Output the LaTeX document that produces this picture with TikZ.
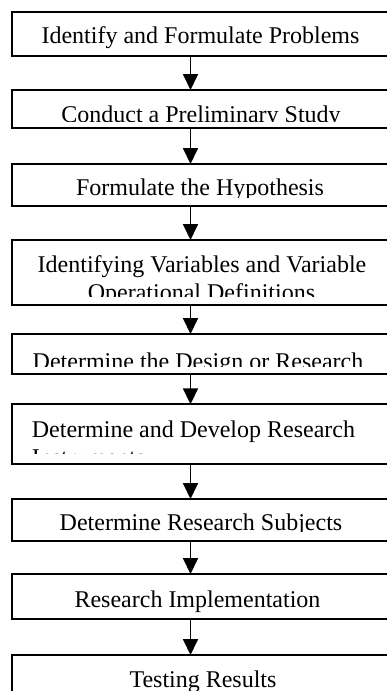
\documentclass[tikz,border=0pt]{standalone}
\usepackage{fontspec}
\setmainfont{Liberation Serif}
\usetikzlibrary{arrows.meta}
\tikzset{
  box/.style={draw, line width=1.8pt, minimum width=380pt, anchor=north west, inner sep=0pt, outer sep=0pt},
  txt/.style={font=\fontsize{24}{28}\selectfont, inner sep=0pt, anchor=base},
  txtl/.style={font=\fontsize{24}{28}\selectfont, inner sep=0pt, anchor=base west},
  arr/.style={-{Triangle[width=15pt,length=16pt]}, line width=1.8pt}
}
\begin{document}
\begin{tikzpicture}[x=1pt,y=-1pt]
\useasboundingbox (0,0) rectangle (387,691);
\clip (0,0) rectangle (387,691);
\fill[white] (0,0) rectangle (387,691);
\coordinate (ax) at (190.5,0);
% boxes
\node[box, minimum height=44pt]   (b1) at (12,11.7) {};
\node[box, minimum height=38pt]   (b2) at (12,90) {};
\node[box, minimum height=42pt]   (b3) at (12,164) {};
\node[box, minimum height=64.7pt] (b4) at (12,240) {};
\node[box, minimum height=40pt]   (b5) at (12,334) {};
\node[box, minimum height=59.7pt] (b6) at (12,404.3) {};
\node[box, minimum height=41.7pt] (b7) at (12,499) {};
\node[box, minimum height=45pt]   (b8) at (12,574) {};
\node[box, minimum height=60pt]   (b9) at (12,655) {};
% texts, clipped inside their boxes
\begin{scope}
  \clip (13,13) rectangle (390,54.7);
  \node[txt] (t1) at (200.5,43.5) {Identify and Formulate Problems};
\end{scope}
\begin{scope}
  \clip (13,91) rectangle (390,121.5);
  \node[txt] (t2) at (201,122.5) {Conduct a Preliminary Study};
\end{scope}
\begin{scope}
  \clip (13,165) rectangle (390,197.5);
  \node[txt] (t3) at (200,195.7) {Formulate the Hypothesis};
\end{scope}
\begin{scope}
  \clip (13,241) rectangle (390,296);
  \node[txt] (t4a) at (202,272.4) {Identifying Variables and Variable};
  \node[txt] (t4b) at (201.5,300.7) {Operational Definitions};
\end{scope}
\begin{scope}
  \clip (13,335) rectangle (390,366.7);
  \node[txt] (t5) at (198,369) {Determine the Design or Research};
\end{scope}
\begin{scope}
  \clip (13,405) rectangle (390,453.3);
  \node[txtl] (t6a) at (31.7,437.4) {Determine and Develop Research};
  \node[txtl] (t6b) at (31.7,465) {Instruments};
\end{scope}
\begin{scope}
  \clip (13,500) rectangle (390,531.7);
  \node[txt] (t7) at (201,530.7) {Determine Research Subjects};
\end{scope}
\begin{scope}
  \clip (13,575) rectangle (390,618);
  \node[txt] (t8) at (197.5,607.4) {Research Implementation};
\end{scope}
\begin{scope}
  \clip (13,656) rectangle (390,691);
  \node[txt] (t9) at (203,687.4) {Testing Results};
\end{scope}
% arrows
\draw[arr] (b1.south -| ax) -- (b2.north -| ax);
\draw[arr] (b2.south -| ax) -- (b3.north -| ax);
\draw[arr] (b3.south -| ax) -- (b4.north -| ax);
\draw[arr] (b4.south -| ax) -- (b5.north -| ax);
\draw[arr] (b5.south -| ax) -- (b6.north -| ax);
\draw[arr] (b6.south -| ax) -- (b7.north -| ax);
\draw[arr] (b7.south -| ax) -- (b8.north -| ax);
\draw[arr] (b8.south -| ax) -- (b9.north -| ax);
\end{tikzpicture}
\end{document}
